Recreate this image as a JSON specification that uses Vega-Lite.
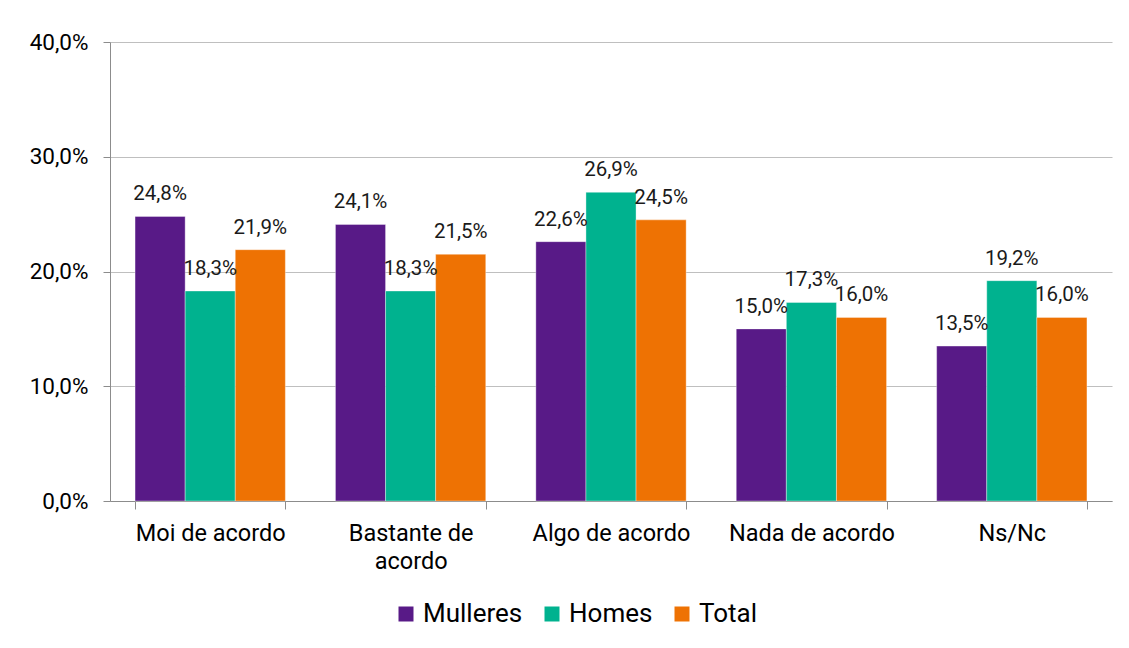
{
  "$schema": "https://vega.github.io/schema/vega-lite/v6.json",
  "autosize": "none",
  "width": 1002,
  "height": 459,
  "padding": {"left": 110, "top": 42, "right": 17, "bottom": 147},
  "background": "white",
  "config": {
    "font": "Roboto",
    "view": {"stroke": null},
    "axis": {"labelFont": "Roboto", "labelColor": "#000000", "titleColor": "#000000"},
    "legend": {"labelFont": "Roboto"}
  },
  "data": {
    "values": [
      {"categoria": "Moi de acordo", "grupo": "Mulleres", "valor": 24.8},
      {"categoria": "Moi de acordo", "grupo": "Homes", "valor": 18.3},
      {"categoria": "Moi de acordo", "grupo": "Total", "valor": 21.9},
      {"categoria": "Bastante de acordo", "grupo": "Mulleres", "valor": 24.1},
      {"categoria": "Bastante de acordo", "grupo": "Homes", "valor": 18.3},
      {"categoria": "Bastante de acordo", "grupo": "Total", "valor": 21.5},
      {"categoria": "Algo de acordo", "grupo": "Mulleres", "valor": 22.6},
      {"categoria": "Algo de acordo", "grupo": "Homes", "valor": 26.9},
      {"categoria": "Algo de acordo", "grupo": "Total", "valor": 24.5},
      {"categoria": "Nada de acordo", "grupo": "Mulleres", "valor": 15.0},
      {"categoria": "Nada de acordo", "grupo": "Homes", "valor": 17.3},
      {"categoria": "Nada de acordo", "grupo": "Total", "valor": 16.0},
      {"categoria": "Ns/Nc", "grupo": "Mulleres", "valor": 13.5},
      {"categoria": "Ns/Nc", "grupo": "Homes", "valor": 19.2},
      {"categoria": "Ns/Nc", "grupo": "Total", "valor": 16.0}
    ]
  },
  "encoding": {
    "x": {
      "field": "categoria",
      "type": "nominal",
      "sort": ["Moi de acordo", "Bastante de acordo", "Algo de acordo", "Nada de acordo", "Ns/Nc"],
      "scale": {"paddingInner": 0.25, "paddingOuter": 0.125},
      "axis": {
        "title": null,
        "labelAngle": 0,
        "tickBand": "extent",
        "ticks": true,
        "tickSize": 8,
        "tickColor": "#8c8c8c",
        "domainColor": "#8c8c8c",
        "labelFontSize": 23.5,
        "labelPadding": 12,
        "labelLineHeight": 28,
        "labelLimit": 0,
        "grid": false,
        "labelExpr": "datum.label == 'Bastante de acordo' ? ['Bastante de', 'acordo'] : datum.label"
      }
    },
    "xOffset": {
      "field": "grupo",
      "type": "nominal",
      "sort": ["Mulleres", "Homes", "Total"],
      "scale": {"paddingInner": 0, "paddingOuter": 0}
    },
    "y": {
      "field": "valor",
      "type": "quantitative",
      "scale": {"domain": [0, 40], "nice": false},
      "axis": {
        "title": null,
        "values": [0, 10, 20, 30, 40],
        "grid": true,
        "gridColor": "#bfbfbf",
        "gridWidth": 1,
        "domainColor": "#8c8c8c",
        "tickColor": "#8c8c8c",
        "tickSize": 7,
        "labelFontSize": 22.5,
        "labelPadding": 15,
        "labelExpr": "replace(format(datum.value, '.1f'), '.', ',') + '%'"
      }
    }
  },
  "layer": [
    {
      "mark": {"type": "bar", "stroke": "#ffffff", "strokeWidth": 0.6, "strokeOpacity": 0.6},
      "encoding": {
        "color": {
          "field": "grupo",
          "type": "nominal",
          "sort": ["Mulleres", "Homes", "Total"],
          "scale": {"domain": ["Mulleres", "Homes", "Total"], "range": ["#581a87", "#00b28f", "#ee7203"]},
          "legend": {
            "title": null,
            "orient": "none",
            "direction": "horizontal",
            "legendX": 283,
            "legendY": 559,
            "symbolType": "square",
            "symbolSize": 225,
            "symbolStrokeWidth": 0,
            "labelFontSize": 26,
            "labelColor": "#000000",
            "labelOffset": 4,
            "columnPadding": 16,
            "padding": 0
          }
        }
      }
    },
    {
      "mark": {
        "type": "text",
        "baseline": "alphabetic",
        "dy": -16,
        "fontSize": 20.5,
        "color": "#1a1a1a",
        "text": {"expr": "replace(format(datum.valor, '.1f'), '.', ',') + '%'"}
      }
    }
  ]
}
